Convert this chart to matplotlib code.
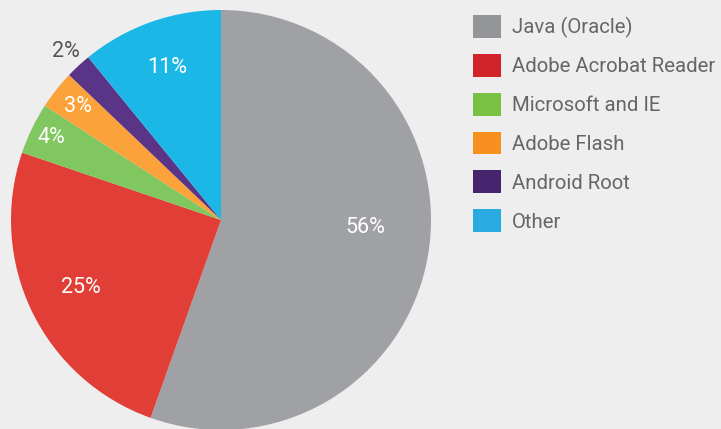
import numpy as np
import matplotlib.pyplot as plt
from matplotlib.patches import Patch

plt.rcParams['font.family'] = ['Roboto', 'DejaVu Sans']

# share of exploits per target
labels = ['Java (Oracle)', 'Adobe Acrobat Reader', 'Microsoft and IE',
          'Adobe Flash', 'Android Root', 'Other']
shares = [56, 25, 4, 3, 2, 11]

wedge_colors = ['#9fa1a4', '#e03e36', '#80c75f', '#fba23a', '#5a3587', '#1ab7e7']
legend_colors = ['#939598', '#d2232a', '#79c143', '#f7901e', '#46246e', '#29abe2']
# label placement: radial distance and small angle tweak per wedge
pct_dist = [0.69, 0.74, 0.90, 0.87, 1.09, 0.77]
pct_shift = [7, 0, 0, 0, 0, 0]
pct_color = ['white', 'white', 'white', 'white', '#555555', 'white']

bg = '#eeeeee'
fig = plt.figure(figsize=(7.21, 4.29), dpi=100, facecolor=bg)
ax = fig.add_axes([11 / 721, -1 / 429, 420 / 721, 420 / 429])
ax.set_facecolor(bg)

wedges, _ = ax.pie(shares, colors=wedge_colors, startangle=90, counterclock=False,
                   radius=1, wedgeprops=dict(linewidth=0))
ax.set_xlim(-1, 1)
ax.set_ylim(-1, 1)
ax.set_aspect('equal')
ax.axis('off')

for w, s, d, sh, c in zip(wedges, shares, pct_dist, pct_shift, pct_color):
    ang = np.deg2rad((w.theta1 + w.theta2) / 2 + sh)
    ax.text(d * np.cos(ang), d * np.sin(ang), f'{s}%', ha='center', va='center',
            fontsize=15.5, color=c)

handles = [Patch(facecolor=c, edgecolor='none') for c in legend_colors]
fig.legend(handles, labels, loc='upper left', bbox_to_anchor=(473 / 721, 1 - 15 / 429),
           frameon=False, fontsize=14.7, labelcolor='#666666',
           handlelength=1.35, handleheight=1.35, handletextpad=0.55, labelspacing=0.78,
           borderaxespad=0, borderpad=0)

fig.savefig('out.png', dpi=100, facecolor=bg)
